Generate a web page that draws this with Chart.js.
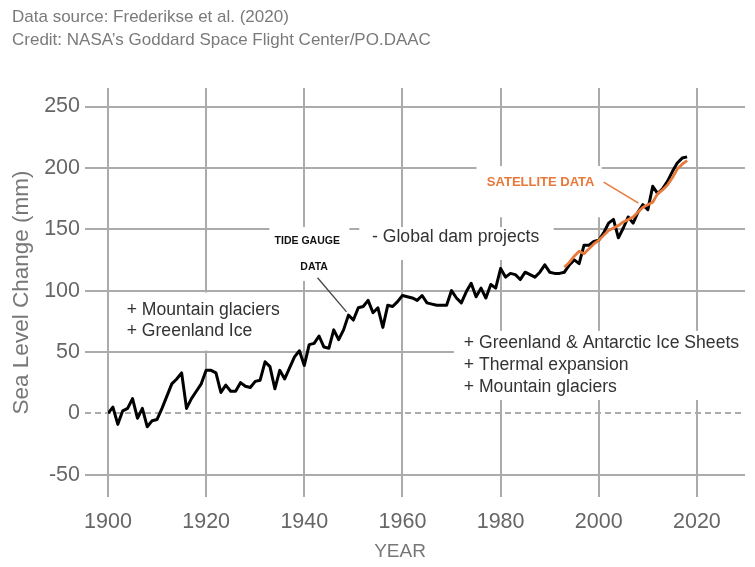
<!DOCTYPE html>
<html><head><meta charset="utf-8">
<script src="https://cdn.jsdelivr.net/npm/chart.js@4/dist/chart.umd.min.js"></script>
<style>html,body{margin:0;padding:0;background:#fff}#wrap{width:755px;height:567px;position:relative}</style>
</head><body><div id="wrap"><canvas id="c" width="755" height="567"></canvas></div>
<script>
// ---- data ----
const tideStartYear = 1900;
const tideValues = [
  0, 5, -9, 2, 4, 12, -4, 4, -11, -6,
  -5, 4, 14, 24, 28, 33, 4, 12, 18, 24,
  35, 35, 33, 17, 23, 18, 18, 25, 22, 21,
  26, 27, 42, 38, 20, 35, 28, 37, 46, 51,
  39, 56, 57, 63, 54, 53, 68, 60, 68, 80,
  76, 86, 87, 92, 82, 86, 70, 88, 87, 91,
  96, 95, 94, 92, 96, 90, 89, 88, 88, 88,
  100, 94, 90, 99, 106, 95, 102, 94, 105, 102,
  118, 111, 114, 113, 109, 115, 113, 111, 115, 121,
  115, 114, 114, 115, 121, 125, 122, 137, 137, 140,
  141, 147, 155, 158, 143, 151, 160, 155, 164, 170,
  166, 185, 179, 183, 189, 197, 204, 208, 209
];
const satelliteStartYear = 1993;
const satelliteValues = [
  119, 123, 128, 132, 130, 134, 138, 141, 145, 149,
  151, 153, 156, 158, 160, 164, 168, 170, 172, 179,
  182, 186, 192, 199, 203, 206
];
const xTickYears = [1900, 1920, 1940, 1960, 1980, 2000, 2020];
const yTickValues = [-50, 0, 50, 100, 150, 200, 250];
const headerLines = ["Data source: Frederikse et al. (2020)", "Credit: NASA\u2019s Goddard Space Flight Center/PO.DAAC"];
const yAxisTitle = "Sea Level Change (mm)";
const xAxisTitle = "YEAR";
// annotation texts: [text, year, value, align]
const noteLabels = [
  ["+ Mountain glaciers", 1903.8, 84.1, "left"],
  ["+ Greenland Ice", 1903.8, 67.1, "left"],
  ["- Global dam projects", 1953.8, 143.3, "left"],
  ["+ Greenland & Antarctic Ice Sheets", 1972.5, 57.3, "left"],
  ["+ Thermal expansion", 1972.5, 39.4, "left"],
  ["+ Mountain glaciers", 1972.5, 21.5, "left"]
];
const tideLabel = [["TIDE GAUGE", 1940.6, 140.3], ["DATA", 1942.0, 119.1]];
const satelliteLabel = ["SATELLITE DATA", 1977.2, 188.4];
// leader lines [x1,y1,x2,y2] in data units
const tideLeader = [1942.7, 110.5, 1948.6, 82.6];
const satelliteLeader = [2001.0, 188.4, 2008.1, 171.3];
// white label backgrounds [year1, year2, valueTop, valueBottom]
const labelBoxes = [
  [1901.4, 1938.0, 98.4, 51.2],
  [1951.2, 1990.8, 151.8, 124.9],
  [1932.9, 1949.2, 151.8, 107.8],
  [1975.1, 2000.6, 201.5, 159.7],
  [1970.5, 2032, 67.2, 10.8]
];

// ---- style ----
const gridColor = '#ababab';
const tickTextColor = '#666666';
const orange = '#e8793b';
const FONT = "'Liberation Sans', Arial, sans-serif";
Chart.defaults.font.family = FONT;

const tidePoints = tideValues.map((v, i) => ({x: tideStartYear + i, y: v}));
const satPoints = satelliteValues.map((v, i) => ({x: satelliteStartYear + i, y: v}));

const overlay = {
  id: 'overlay',
  beforeDatasetsDraw(chart) {
    const {ctx, chartArea: ca, scales: {x, y}} = chart;
    ctx.save();
    const y0 = Math.round(y.getPixelForValue(0));
    ctx.strokeStyle = gridColor; ctx.lineWidth = 2; ctx.setLineDash([6, 4]);
    ctx.beginPath(); ctx.moveTo(ca.left - 23, y0); ctx.lineTo(ca.right, y0); ctx.stroke();
    ctx.setLineDash([]);
    ctx.fillStyle = '#ffffff';
    labelBoxes.forEach(b => {
      const l = x.getPixelForValue(b[0]), r = x.getPixelForValue(b[1]);
      const t = y.getPixelForValue(b[2]), bt = y.getPixelForValue(b[3]);
      ctx.fillRect(l, t, r - l, bt - t);
    });
    // leader lines
    ctx.lineWidth = 1.3; ctx.strokeStyle = '#444';
    ctx.beginPath();
    ctx.moveTo(x.getPixelForValue(tideLeader[0]), y.getPixelForValue(tideLeader[1]));
    ctx.lineTo(x.getPixelForValue(tideLeader[2]), y.getPixelForValue(tideLeader[3]));
    ctx.stroke();
    ctx.strokeStyle = orange; ctx.lineWidth = 1.5;
    ctx.beginPath();
    ctx.moveTo(x.getPixelForValue(satelliteLeader[0]), y.getPixelForValue(satelliteLeader[1]));
    ctx.lineTo(x.getPixelForValue(satelliteLeader[2]), y.getPixelForValue(satelliteLeader[3]));
    ctx.stroke();
    ctx.restore();
  },
  afterDraw(chart) {
    const {ctx, chartArea: ca, scales: {x, y}} = chart;
    ctx.save();
    ctx.textBaseline = 'middle';
    // header
    ctx.fillStyle = '#7a7a7a'; ctx.font = `17px ${FONT}`; ctx.textAlign = 'left';
    ctx.fillText(headerLines[0], 12, 17);
    ctx.fillText(headerLines[1], 12, 40);
    // notes
    ctx.fillStyle = '#333333'; ctx.font = `17.6px ${FONT}`;
    noteLabels.forEach(n => {
      ctx.textAlign = n[3];
      ctx.fillText(n[0], x.getPixelForValue(n[1]), y.getPixelForValue(n[2]));
    });
    ctx.font = `bold 10.5px ${FONT}`; ctx.fillStyle = '#111'; ctx.textAlign = 'center';
    tideLabel.forEach(n => ctx.fillText(n[0], x.getPixelForValue(n[1]), y.getPixelForValue(n[2])));
    ctx.font = `bold 13px ${FONT}`; ctx.fillStyle = orange; ctx.textAlign = 'left';
    ctx.fillText(satelliteLabel[0], x.getPixelForValue(satelliteLabel[1]), y.getPixelForValue(satelliteLabel[2]));
    // x axis title
    ctx.fillStyle = '#777777'; ctx.font = `19px ${FONT}`; ctx.textAlign = 'center';
    ctx.fillText(xAxisTitle, x.getPixelForValue(1959.5), 552);
    ctx.restore();
  }
};

new Chart(document.getElementById('c'), {
  type: 'line',
  data: {
    datasets: [
      {label: 'Satellite', data: satPoints, borderColor: orange, borderWidth: 2.8, pointRadius: 0, tension: 0, order: 0, borderJoinStyle: 'round'},
      {label: 'Tide gauge', data: tidePoints, borderColor: '#000', borderWidth: 3, pointRadius: 0, tension: 0, order: 1, borderJoinStyle: 'round'}
    ]
  },
  options: {
    responsive: false,
    animation: false,
    events: [],
    layout: {padding: {top: 88, right: 10, left: 0, bottom: 0}},
    plugins: {legend: {display: false}, tooltip: {enabled: false}},
    scales: {
      x: {
        type: 'linear', min: 1900, max: 2029.8,
        afterBuildTicks: s => { s.ticks = xTickYears.map(v => ({value: v})); },
        afterFit: s => { s.height = 70; },
        grid: {color: gridColor, lineWidth: 2, drawTicks: false},
        border: {display: false},
        ticks: {padding: 12, color: tickTextColor, font: {size: 21.5}, maxRotation: 0, callback: v => String(v)}
      },
      y: {
        type: 'linear', min: -68.2, max: 265.1,
        afterBuildTicks: s => { s.ticks = yTickValues.map(v => ({value: v})); },
        afterFit: s => { s.width = 108; },
        grid: {
          color: c => (c.tick && c.tick.value === 0) ? 'rgba(0,0,0,0)' : gridColor,
          tickColor: c => (c.tick && c.tick.value === 0) ? 'rgba(0,0,0,0)' : gridColor,
          lineWidth: 2, tickLength: 23, drawTicks: true
        },
        border: {display: false},
        ticks: {padding: 5, color: tickTextColor, font: {size: 21.5}, callback: v => String(v)},
        title: {display: true, text: yAxisTitle, color: '#777777', font: {size: 22.5}, padding: {top: 8, bottom: 0}}
      }
    }
  },
  plugins: [overlay]
});
</script>
</body></html>
